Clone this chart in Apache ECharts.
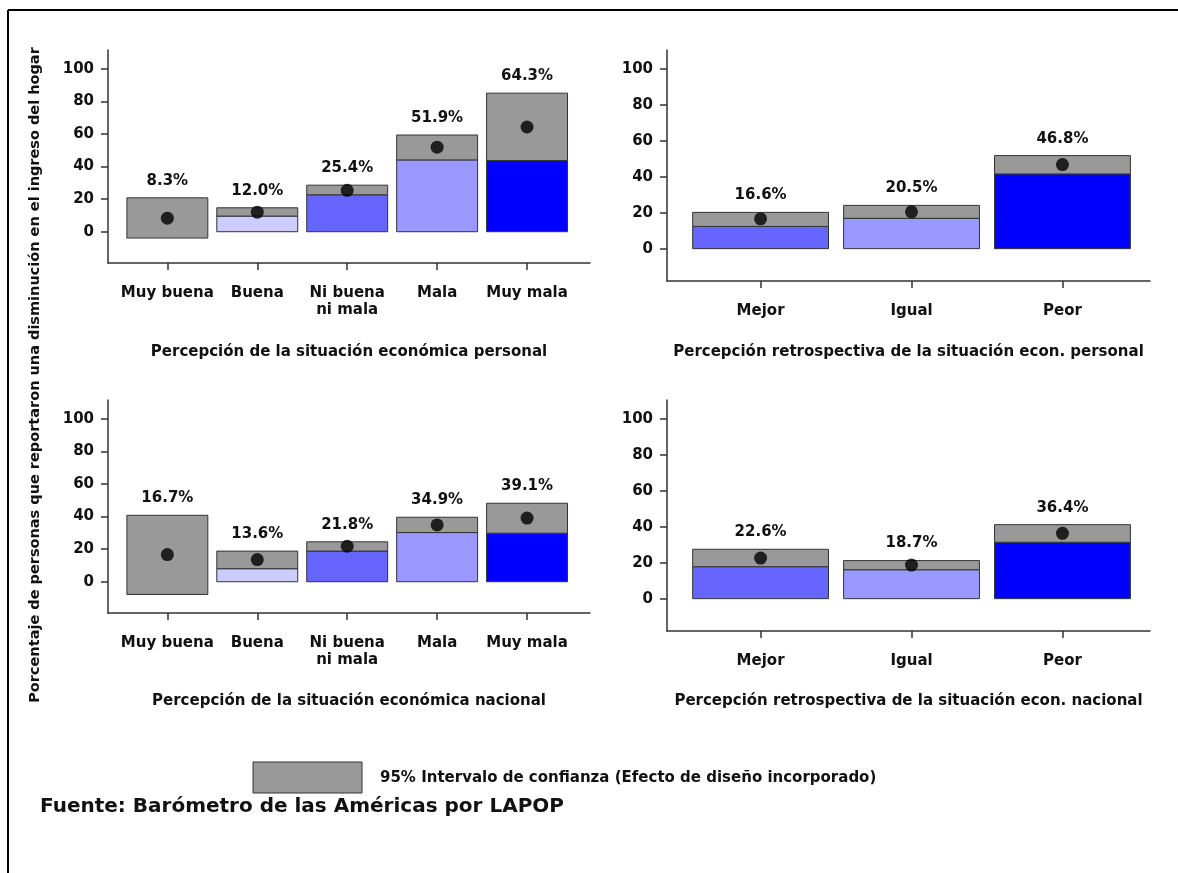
<!DOCTYPE html>
<html>
<head>
<meta charset="utf-8">
<script src="https://cdn.jsdelivr.net/npm/echarts@6/dist/echarts.min.js"></script>
<style>
html, body { margin: 0; padding: 0; background: #fff; }
#main { width: 1178px; height: 873px; }
</style>
</head>
<body>
<div id="main"></div>
<script>
var catsSituacion = ['Muy buena', 'Buena', 'Ni buena\nni mala', 'Mala', 'Muy mala'];
var catsRetro = ['Mejor', 'Igual', 'Peor'];

// percepción situación económica personal
var personalMean = [8.3, 12.0, 25.4, 51.9, 64.3];
var personalLow = [-3.9, 9.6, 22.7, 44.1, 43.7];
var personalHigh = [20.8, 14.7, 28.6, 59.4, 85.1];

// retrospectiva personal
var retroPersonalMean = [16.6, 20.5, 46.8];
var retroPersonalLow = [12.4, 16.9, 41.6];
var retroPersonalHigh = [20.2, 24.1, 51.8];

// situación económica nacional
var nacionalMean = [16.7, 13.6, 21.8, 34.9, 39.1];
var nacionalLow = [-7.8, 8.0, 18.8, 30.2, 29.8];
var nacionalHigh = [40.8, 18.8, 24.5, 39.6, 48.2];

// retrospectiva nacional
var retroNacionalMean = [22.6, 18.7, 36.4];
var retroNacionalLow = [17.8, 16.1, 31.4];
var retroNacionalHigh = [27.5, 21.2, 41.2];

var yTicks = [0, 20, 40, 60, 80, 100];

var colorsSituacion = ['#CCCCFF', '#CCCCFF', '#6666FF', '#9999FF', '#0000FF'];
var colorsRetro = ['#6666FF', '#9999FF', '#0000FF'];
var ciColor = '#999999';

var font = 'DejaVu Sans';
var dom = document.getElementById('main');
var myChart = echarts.init(dom);

var panels = [
    {cats: catsSituacion, mean: personalMean, low: personalLow, high: personalHigh, colors: colorsSituacion,
     name: 'Percepción de la situación económica personal',
     grid: {left: 108, top: 50, width: 482, height: 213}, xMin: 0.34, xMax: 5.7, yMin: -19.2, yMax: 111.6, nameGap: 82},
    {cats: catsRetro, mean: retroPersonalMean, low: retroPersonalLow, high: retroPersonalHigh, colors: colorsRetro,
     name: 'Percepción retrospectiva de la situación econ. personal',
     grid: {left: 667, top: 50, width: 483, height: 231}, xMin: 0.38, xMax: 3.58, yMin: -18, yMax: 110.6, nameGap: 64},
    {cats: catsSituacion, mean: nacionalMean, low: nacionalLow, high: nacionalHigh, colors: colorsSituacion,
     name: 'Percepción de la situación económica nacional',
     grid: {left: 108, top: 400, width: 482, height: 213}, xMin: 0.34, xMax: 5.7, yMin: -19.2, yMax: 111.6, nameGap: 81},
    {cats: catsRetro, mean: retroNacionalMean, low: retroNacionalLow, high: retroNacionalHigh, colors: colorsRetro,
     name: 'Percepción retrospectiva de la situación econ. nacional',
     grid: {left: 667, top: 400, width: 483, height: 231}, xMin: 0.38, xMax: 3.58, yMin: -18, yMax: 110.6, nameGap: 63}
];

var grids = [], xAxes = [], yAxes = [], series = [];

panels.forEach(function (p, i) {
    var xs = p.cats.map(function (c, j) { return j + 1; });
    grids.push(p.grid);
    xAxes.push({
        type: 'value', gridIndex: i, min: p.xMin, max: p.xMax,
        name: p.name, nameLocation: 'middle', nameGap: p.nameGap,
        nameTextStyle: {fontFamily: font, fontWeight: 'bold', fontSize: 15, color: '#111'},
        axisLine: {onZero: false, lineStyle: {color: '#333', width: 1.5}},
        axisTick: {customValues: xs, length: 7, lineStyle: {color: '#333', width: 1.5}},
        axisLabel: {
            customValues: xs, margin: 22, lineHeight: 17,
            fontFamily: font, fontWeight: 'bold', fontSize: 15, color: '#111',
            formatter: function (v) { return p.cats[Math.round(v) - 1]; }
        },
        splitLine: {show: false}
    });
    yAxes.push({
        type: 'value', gridIndex: i, min: p.yMin, max: p.yMax,
        axisLine: {show: true, onZero: false, lineStyle: {color: '#333', width: 1.5}},
        axisTick: {show: true, customValues: yTicks, length: 7, lineStyle: {color: '#333', width: 1.5}},
        axisLabel: {customValues: yTicks, margin: 14, fontFamily: font, fontWeight: 'bold', fontSize: 15, color: '#111'},
        splitLine: {show: false}
    });
    series.push({
        type: 'custom', xAxisIndex: i, yAxisIndex: i,
        data: p.cats.map(function (c, j) { return [j + 1, p.low[j], p.high[j], p.mean[j]]; }),
        renderItem: function (params, api) {
            var j = params.dataIndex;
            var x = api.value(0), lo = api.value(1), hi = api.value(2), m = api.value(3);
            var half = api.size([0.9, 0])[0] / 2;
            var base = api.coord([x, 0]);
            var pLo = api.coord([x, lo]);
            var pHi = api.coord([x, hi]);
            var children = [];
            if (lo > 0) {
                children.push({
                    type: 'rect',
                    shape: {x: base[0] - half, y: pLo[1], width: half * 2, height: base[1] - pLo[1]},
                    style: {fill: p.colors[j], stroke: '#333', lineWidth: 1}
                });
            }
            children.push({
                type: 'rect',
                shape: {x: base[0] - half, y: pHi[1], width: half * 2, height: pLo[1] - pHi[1]},
                style: {fill: ciColor, stroke: '#333', lineWidth: 1}
            });
            children.push({
                type: 'text',
                style: {
                    text: m.toFixed(1) + '%', x: base[0], y: pHi[1] - 17,
                    align: 'center', verticalAlign: 'middle',
                    font: 'bold 15px ' + font, fill: '#111'
                }
            });
            return {type: 'group', children: children};
        }
    });
    series.push({
        type: 'scatter', xAxisIndex: i, yAxisIndex: i, symbolSize: 13, z: 5,
        itemStyle: {color: '#000'},
        data: p.cats.map(function (c, j) { return [j + 1, p.mean[j]]; })
    });
});

option = {
    animation: false,
    grid: grids,
    xAxis: xAxes,
    yAxis: yAxes,
    series: series,
    graphic: [
        {type: 'line', shape: {x1: 8, y1: 10, x2: 1178, y2: 10}, style: {stroke: '#000', lineWidth: 2}},
        {type: 'line', shape: {x1: 8, y1: 10, x2: 8, y2: 873}, style: {stroke: '#000', lineWidth: 2}},
        {type: 'text', x: 35, y: 375, rotation: Math.PI / 2,
         style: {text: 'Porcentaje de personas que reportaron una disminución en el ingreso del hogar',
                 font: 'bold 14.5px ' + font, fill: '#111', align: 'center', verticalAlign: 'middle'}},
        {type: 'rect', shape: {x: 253, y: 762, width: 109, height: 31}, style: {fill: ciColor, stroke: '#333', lineWidth: 1}},
        {type: 'text', x: 380, y: 778,
         style: {text: '95% Intervalo de confianza (Efecto de diseño incorporado)',
                 font: 'bold 15px ' + font, fill: '#111', verticalAlign: 'middle'}},
        {type: 'text', x: 40, y: 807,
         style: {text: 'Fuente: Barómetro de las Américas por LAPOP',
                 font: 'bold 20px ' + font, fill: '#111', verticalAlign: 'middle'}}
    ]
};

if (option && typeof option === "object") {
    myChart.setOption(option, true);
}
</script>
</body>
</html>
